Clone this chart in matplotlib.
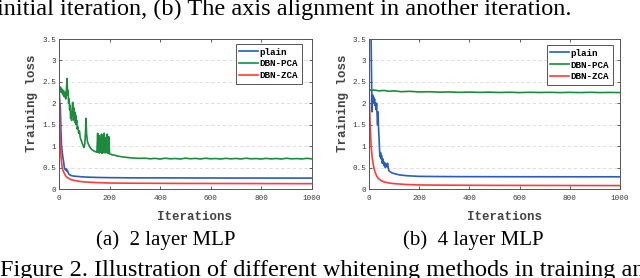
import matplotlib
matplotlib.use("Agg")
import matplotlib.pyplot as plt

# (a) 2 layer MLP
plain_a_x = [0, 3, 5, 8, 10, 13, 15, 18, 20, 22, 25, 28, 30, 33, 36, 40, 50, 60, 80,
             100, 150, 200, 300, 400, 500, 600, 700, 800, 900, 1000]
plain_a_y = [2.35, 2.0, 1.95, 1.3, 1.0, 0.85, 0.75, 0.65, 0.55, 0.48, 0.45, 0.47, 0.42,
             0.44, 0.38, 0.34, 0.31, 0.3, 0.29, 0.28, 0.27, 0.265, 0.26, 0.26, 0.258,
             0.257, 0.256, 0.256, 0.255, 0.255]

pca_a_x = [0, 3, 6, 9, 12, 15, 18, 21, 24, 27, 30, 32, 34, 36, 38, 40, 42, 44, 46, 48,
           50, 52, 54, 56, 58, 60, 62, 64, 66, 68, 70, 72, 75, 78, 81, 84, 87, 90, 93,
           96, 99, 102, 105, 107, 109, 112, 116, 120, 125, 130, 135, 140, 145, 150,
           153, 155, 158, 160, 163, 165, 168, 170, 173, 176, 179, 182, 185, 188, 191,
           194, 197, 200, 210, 220, 230, 240, 250, 265, 280, 300, 320, 340, 360, 380,
           400, 420, 440, 460, 480, 500, 520, 540, 560, 580, 600, 620, 640, 660, 680,
           700, 720, 740, 760, 780, 800, 820, 840, 860, 880, 900, 920, 940, 960, 980,
           1000]
pca_a_y = [2.35, 2.3, 2.38, 2.25, 2.33, 2.2, 2.3, 2.15, 2.25, 2.1, 2.4, 2.58, 2.2, 2.3,
           2.0, 2.1, 1.85, 1.95, 1.65, 1.75, 1.6, 1.85, 2.02, 1.7, 1.9, 1.6, 1.8, 1.55,
           1.72, 1.5, 1.6, 1.4, 1.45, 1.3, 1.35, 1.2, 1.15, 1.1, 1.05, 1.0, 0.97, 1.05,
           1.35, 1.65, 1.3, 1.12, 1.05, 1.0, 0.95, 0.92, 0.9, 0.88, 0.87, 0.86, 1.3,
           0.85, 1.25, 0.84, 1.2, 0.86, 1.28, 0.83, 1.25, 0.85, 1.3, 0.84, 1.2, 0.85,
           1.28, 0.83, 1.22, 0.82, 0.8, 0.79, 0.77, 0.76, 0.75, 0.74, 0.73, 0.72, 0.715,
           0.72, 0.705, 0.715, 0.7, 0.718, 0.705, 0.712, 0.7, 0.72, 0.706, 0.714, 0.702,
           0.718, 0.705, 0.712, 0.7, 0.716, 0.704, 0.713, 0.701, 0.718, 0.705, 0.71,
           0.7, 0.715, 0.703, 0.712, 0.7, 0.717, 0.704, 0.71, 0.702, 0.715, 0.705]

zca_a_x = [0, 2, 4, 6, 8, 10, 13, 16, 20, 25, 30, 40, 50, 60, 80, 100, 150, 200, 300,
           500, 700, 1000]
zca_a_y = [2.42, 2.0, 1.4, 1.0, 0.75, 0.62, 0.5, 0.43, 0.38, 0.32, 0.28, 0.24, 0.215,
           0.2, 0.18, 0.165, 0.15, 0.14, 0.135, 0.13, 0.128, 0.125]

# (b) 4 layer MLP
plain_b_x = [0, 8, 10, 12, 14, 16, 18, 20, 22, 24, 26, 28, 30, 32, 34, 36, 38, 40, 42,
             44, 46, 48, 50, 53, 56, 59, 62, 65, 68, 71, 74, 77, 80, 90, 100, 120, 150,
             200, 300, 400, 500, 600, 700, 800, 900, 1000]
plain_b_y = [4.5, 3.6, 2.6, 1.8, 2.2, 2.05, 2.15, 2.0, 2.1, 1.95, 2.0, 1.85, 2.0, 1.75,
             1.5, 1.8, 1.4, 1.2, 0.9, 0.75, 0.85, 0.7, 0.78, 0.6, 0.7, 0.55, 0.62, 0.5,
             0.58, 0.52, 0.6, 0.48, 0.42, 0.38, 0.36, 0.33, 0.31, 0.295, 0.29, 0.288,
             0.287, 0.286, 0.286, 0.285, 0.285, 0.285]

pca_b_x = [0, 10, 20, 40, 60, 80, 100, 130, 160, 200, 240, 280, 320, 360, 400, 440,
           480, 520, 560, 600, 640, 680, 720, 760, 800, 840, 880, 920, 960, 1000]
pca_b_y = [2.32, 2.3, 2.31, 2.29, 2.3, 2.28, 2.29, 2.27, 2.28, 2.265, 2.27, 2.26, 2.265,
           2.255, 2.262, 2.255, 2.26, 2.252, 2.258, 2.25, 2.257, 2.252, 2.256, 2.25,
           2.255, 2.25, 2.256, 2.25, 2.254, 2.25]

zca_b_x = [0, 2, 4, 6, 8, 10, 13, 16, 20, 25, 30, 35, 40, 50, 60, 80, 100, 150, 200,
           300, 500, 1000]
zca_b_y = [2.4, 2.0, 1.6, 1.3, 1.05, 0.9, 0.72, 0.6, 0.48, 0.38, 0.31, 0.26, 0.23,
           0.19, 0.165, 0.14, 0.125, 0.105, 0.095, 0.09, 0.085, 0.08]

labels = ["plain", "DBN-PCA", "DBN-ZCA"]
colors = ["#2b5cb8", "#1e8a3e", "#ff3b3b"]
yticks = [0, 0.5, 1, 1.5, 2, 2.5, 3, 3.5]
ytick_labels = ["0", "0.5", "1", "1.5", "2", "2.5", "3", "3.5"]
xticks = [0, 200, 400, 600, 800, 1000]

MONO = "Liberation Mono"
SERIF = "Liberation Serif"

fig = plt.figure(figsize=(6.4, 2.78), dpi=100)


def draw_panel(rect, series, legend_anchor):
    ax = fig.add_axes(rect)
    for (xs, ys), lab, col in zip(series, labels, colors):
        ax.plot(xs, ys, color=col, lw=1.2, label=lab)
    ax.set_xlim(0, 1000)
    ax.set_ylim(0, 3.5)
    ax.set_xticks(xticks)
    ax.set_xticklabels([str(t) for t in xticks], family=MONO, fontsize=5.5)
    ax.set_yticks(yticks)
    ax.set_yticklabels(ytick_labels, family=MONO, fontsize=5.5)
    ax.tick_params(direction="in", length=2.5, width=0.6, top=True, right=True,
                   colors="#444444", labelcolor="#3a3a3a")
    ax.tick_params(axis="x", pad=4)
    ax.tick_params(axis="y", pad=2)
    ax.yaxis.grid(True, ls=(0, (4, 3)), color="#d8d8d8", lw=0.6)
    ax.set_axisbelow(True)
    for sp in ax.spines.values():
        sp.set_color("#555555")
        sp.set_linewidth(0.7)
    leg = ax.legend(loc="upper right", bbox_to_anchor=legend_anchor,
                    borderaxespad=0, fancybox=False, framealpha=1,
                    prop={"family": MONO, "weight": "bold", "size": 6.7},
                    handlelength=2.0, handletextpad=0.2, labelspacing=0.3,
                    borderpad=0.4)
    leg.get_frame().set_edgecolor("#555555")
    leg.get_frame().set_linewidth(0.7)
    return ax


draw_panel([0.0922, 0.3201, 0.3948, 0.5396],
           [(plain_a_x, plain_a_y), (pca_a_x, pca_a_y), (zca_a_x, zca_a_y)],
           (0.962, 0.967))
draw_panel([0.5766, 0.3201, 0.3922, 0.5396],
           [(plain_b_x, plain_b_y), (pca_b_x, pca_b_y), (zca_b_x, zca_b_y)],
           (0.972, 0.96))

# axis labels (placed like the original MATLAB export)
for xc in (194, 504):
    fig.text(xc / 640, 1 - 216.7 / 278, "Iterations", family=MONO, weight="bold",
             fontsize=9, color="#444444", ha="center", va="center")
for xc in (32, 343):
    fig.text(xc / 640, 1 - 103.5 / 278, "Training loss", family=MONO, weight="bold",
             fontsize=9, color="#444444", ha="center", va="center", rotation=90)

# sub-captions and the surrounding paper text
fig.text(166 / 640, 1 - 245 / 278, "(a)  2 layer MLP", family=SERIF, fontsize=15,
         ha="center", va="baseline")
fig.text(473 / 640, 1 - 245 / 278, "(b)  4 layer MLP", family=SERIF, fontsize=15,
         ha="center", va="baseline")
fig.text(-3 / 640, 1 - 15 / 278,
         "initial iteration, (b) The axis alignment in another iteration.",
         family=SERIF, fontsize=17.5, ha="left", va="baseline")
fig.text(0, 1 - 276 / 278,
         "Figure 2. Illustration of different whitening methods in training an",
         family=SERIF, fontsize=17.5, ha="left", va="baseline")

fig.savefig("out.png", dpi=100)
